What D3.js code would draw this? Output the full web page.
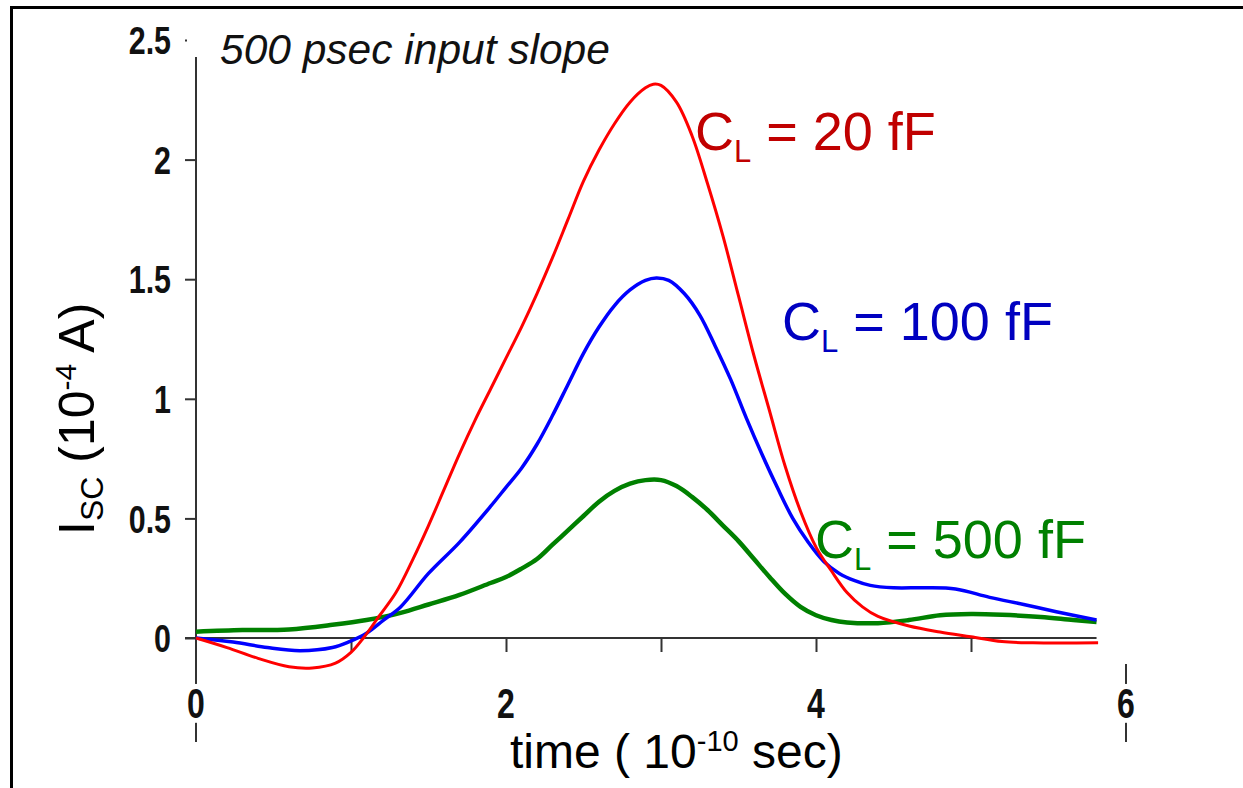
<!DOCTYPE html>
<html>
<head>
<meta charset="utf-8">
<script src="https://cdn.jsdelivr.net/npm/d3@7"></script>
<style>
  html, body { margin: 0; padding: 0; background: #fff; }
  svg { display: block; }
  .tick-num { font-family: "Liberation Sans", Arial, sans-serif; font-weight: bold; fill: #111; }
  .lbl { font-family: "Liberation Sans", Arial, Helvetica, sans-serif; }
</style>
</head>
<body>
<svg id="chart" width="1243" height="788"></svg>
<script>
// ---- data (time in 1e-10 s, Isc in 1e-4 A) ----
const title = "500 psec input slope";
const yTicks = [0, 0.5, 1, 1.5, 2, 2.5];
const xTicksTop = [1, 2, 3, 4, 5];
const xTicksBottom = [0, 2, 4, 6];

const time20 = [0, 0.2, 0.4, 0.6, 0.75, 0.9, 1.0, 1.08, 1.18, 1.29, 1.4, 1.5, 1.6, 1.7, 1.8, 1.9, 2.0, 2.1, 2.2, 2.3, 2.4, 2.5, 2.6, 2.7, 2.8, 2.9, 2.95, 3.0, 3.1, 3.2, 3.3, 3.4, 3.5, 3.6, 3.7, 3.8, 3.9, 4.0, 4.1, 4.2, 4.3, 4.4, 4.6, 4.8, 5.0, 5.2, 5.4, 5.82];
const isc20  = [0, -0.04, -0.085, -0.12, -0.125, -0.105, -0.06, 0, 0.09, 0.19, 0.33, 0.47, 0.62, 0.77, 0.91, 1.04, 1.17, 1.3, 1.44, 1.59, 1.75, 1.91, 2.04, 2.15, 2.24, 2.3, 2.315, 2.31, 2.24, 2.1, 1.9, 1.68, 1.43, 1.18, 0.95, 0.72, 0.53, 0.38, 0.28, 0.19, 0.13, 0.09, 0.05, 0.025, 0.005, -0.015, -0.02, -0.02];

const time100 = [0, 0.24, 0.46, 0.67, 0.88, 0.99, 1.1, 1.21, 1.32, 1.5, 1.7, 1.9, 2.0, 2.1, 2.2, 2.3, 2.4, 2.5, 2.6, 2.7, 2.8, 2.9, 2.97, 3.05, 3.15, 3.25, 3.35, 3.45, 3.55, 3.65, 3.75, 3.85, 3.95, 4.05, 4.15, 4.25, 4.35, 4.5, 4.7, 4.9, 5.12, 5.34, 5.55, 5.81];
const isc100  = [0, -0.017, -0.04, -0.053, -0.04, -0.015, 0.02, 0.075, 0.13, 0.27, 0.4, 0.55, 0.63, 0.71, 0.81, 0.93, 1.06, 1.19, 1.3, 1.39, 1.455, 1.495, 1.505, 1.495, 1.44, 1.35, 1.22, 1.08, 0.92, 0.77, 0.63, 0.5, 0.4, 0.32, 0.27, 0.24, 0.22, 0.21, 0.21, 0.205, 0.17, 0.14, 0.11, 0.075];

const time500 = [0, 0.3, 0.6, 0.88, 1.1, 1.32, 1.5, 1.7, 1.9, 2.0, 2.1, 2.2, 2.3, 2.4, 2.5, 2.6, 2.7, 2.8, 2.9, 3.0, 3.1, 3.2, 3.3, 3.4, 3.5, 3.6, 3.7, 3.8, 3.9, 4.0, 4.1, 4.2, 4.4, 4.6, 4.8, 5.0, 5.2, 5.45, 5.66, 5.81];
const isc500  = [0.026, 0.033, 0.036, 0.055, 0.075, 0.105, 0.14, 0.18, 0.23, 0.255, 0.29, 0.33, 0.39, 0.45, 0.51, 0.57, 0.615, 0.645, 0.66, 0.66, 0.635, 0.59, 0.535, 0.47, 0.405, 0.33, 0.255, 0.185, 0.13, 0.095, 0.075, 0.065, 0.062, 0.075, 0.095, 0.1, 0.097, 0.088, 0.075, 0.067];

const seriesNames = ["20", "100", "500"];

// ---- build ----
const svg = d3.select("#chart");
const x = d3.scaleLinear().domain([0, 6]).range([196, 1126]);
const y = d3.scaleLinear().domain([0, 2.5]).range([638, 40]);
const NARROW = 0.8;

// outer frame (left + top)
svg.append("line").attr("x1", 11.5).attr("x2", 11.5).attr("y1", 6).attr("y2", 788).attr("stroke", "#000").attr("stroke-width", 3);
svg.append("line").attr("x1", 10).attr("x2", 1243).attr("y1", 7.5).attr("y2", 7.5).attr("stroke", "#000").attr("stroke-width", 3);

// y axis
const yAxis = svg.append("g").attr("transform", "translate(196,0)")
  .call(d3.axisLeft(y).tickValues(yTicks).tickSize(11).tickPadding(13).tickFormat(d => String(d)));
yAxis.select(".domain").remove();
yAxis.selectAll(".tick line").attr("stroke", "#333").attr("stroke-width", 2);
yAxis.selectAll(".tick").filter(d => d === 2.5).select("line").attr("x1", -9).attr("x2", -11);
yAxis.selectAll(".tick text").attr("class", "tick-num").attr("font-size", 38).attr("dy", "0.36em")
  .attr("x", 0).attr("transform", `translate(-25,0) scale(${NARROW},1)`);
svg.append("line").attr("x1", 196).attr("x2", 196).attr("y1", 57).attr("y2", 742).attr("stroke", "#333").attr("stroke-width", 2);

// top x axis along zero line
const xTop = svg.append("g").attr("transform", `translate(0,${y(0)})`)
  .call(d3.axisBottom(x).tickValues(xTicksTop).tickSize(14).tickFormat(""));
xTop.select(".domain").remove();
xTop.selectAll(".tick line").attr("stroke", "#333").attr("stroke-width", 2);
svg.append("line").attr("x1", 185).attr("x2", x(5.81)).attr("y1", y(0)).attr("y2", y(0)).attr("stroke", "#333").attr("stroke-width", 2);

// bottom tick labels
svg.append("line").attr("x1", x(6)).attr("x2", x(6)).attr("y1", 664).attr("y2", 742).attr("stroke", "#333").attr("stroke-width", 2);
const bl = svg.append("g").selectAll("g").data(xTicksBottom).join("g")
  .attr("transform", d => `translate(${x(d)},718) scale(${NARROW},1.05)`);
bl.each(function(d) {
  const g = d3.select(this);
  const t = g.append("text").attr("class", "tick-num").attr("font-size", 40)
    .attr("x", 0).attr("y", 0).attr("text-anchor", "middle").text(d);
  const b = t.node().getBBox();
  g.insert("rect", "text").attr("x", b.x).attr("y", b.y + 4).attr("width", b.width).attr("height", b.height - 8).attr("fill", "#fff");
});

// curves
const line = d3.line().x(d => x(d[0])).y(d => y(d[1])).curve(d3.curveCatmullRom.alpha(0.5));
const zip = (a, b) => a.map((v, i) => [v, b[i]]);
const curves = [
  { data: zip(time500, isc500), color: "#008000", w: 4.5 },
  { data: zip(time100, isc100), color: "#0000ff", w: 3.5 },
  { data: zip(time20, isc20), color: "#ff0000", w: 3 }
];
svg.append("g").selectAll("path").data(curves).join("path")
  .attr("d", d => line(d.data)).attr("fill", "none")
  .attr("stroke", d => d.color).attr("stroke-width", d => d.w).attr("stroke-linejoin", "round");

// title
svg.append("text").attr("class", "lbl").attr("x", 220).attr("y", 64).attr("font-size", 42.5)
  .attr("font-style", "italic").attr("fill", "#111").text(title);

// series labels
const labels = [
  { name: seriesNames[0], x: 695, y: 150, color: "#c00000" },
  { name: seriesNames[1], x: 782, y: 340, color: "#0000c0" },
  { name: seriesNames[2], x: 815, y: 558, color: "#008000" }
];
labels.forEach(l => {
  const t = svg.append("text").attr("class", "lbl").attr("x", l.x).attr("y", l.y).attr("font-size", 54).attr("fill", l.color);
  t.append("tspan").text("C");
  t.append("tspan").attr("font-size", 31).attr("dy", 12).text("L");
  t.append("tspan").attr("dy", -12).text(` = ${l.name} fF`);
});

// x axis title
const xt = svg.append("text").attr("class", "lbl").attr("x", 510).attr("y", 768).attr("font-size", 48).attr("fill", "#000");
xt.append("tspan").text("time ( 10");
xt.append("tspan").attr("font-size", 29).attr("dy", -17).text("-10");
xt.append("tspan").attr("dy", 17).text(" sec)");

// y axis title
const yt = svg.append("text").attr("class", "lbl").attr("transform", "translate(94,535) rotate(-90)").attr("font-size", 50).attr("fill", "#000");
yt.append("tspan").text("I");
yt.append("tspan").attr("font-size", 32).attr("dy", 9).text("SC");
yt.append("tspan").attr("dy", -9).text(" (10");
yt.append("tspan").attr("font-size", 30).attr("dy", -18).text("-4");
yt.append("tspan").attr("dy", 18).text(" A)");
</script>
</body>
</html>
